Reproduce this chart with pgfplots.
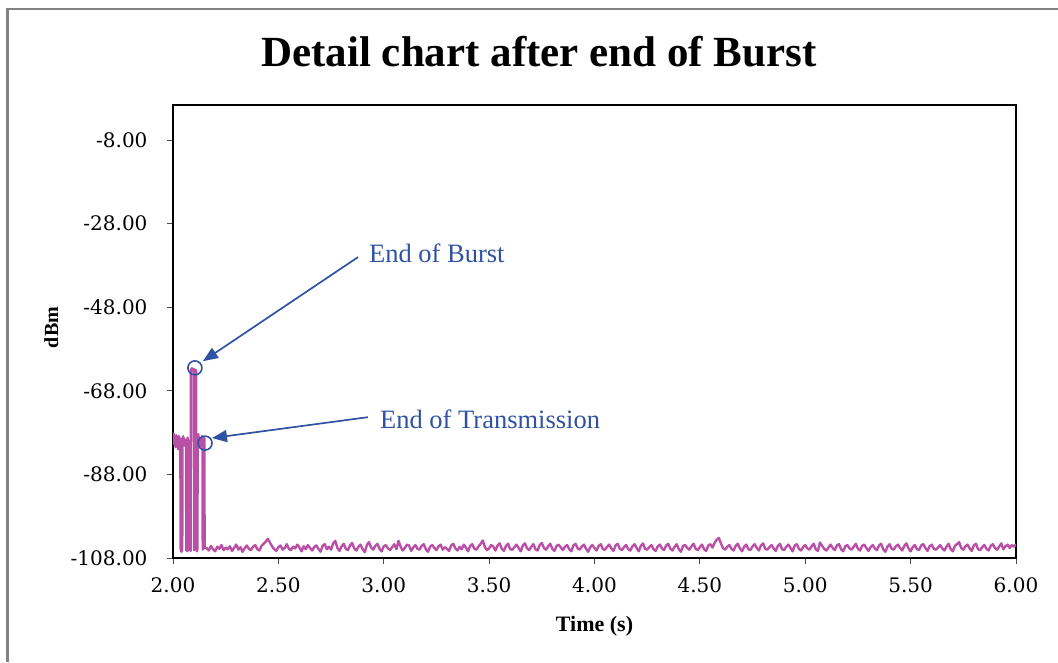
\documentclass[border=0pt]{standalone}
\usepackage{pgfplots}
\pgfplotsset{compat=1.18}
\usetikzlibrary{arrows.meta}
\usepackage{fontspec}
\setmainfont{Liberation Serif}
\newfontfamily\tickfont{DejaVu Serif}
\definecolor{sig}{RGB}{186,80,166}
\definecolor{annot}{RGB}{47,82,163}
\definecolor{frame}{RGB}{130,130,130}
\begin{document}
\begin{tikzpicture}
\path[use as bounding box] (0,0) rectangle (1058pt,662pt);
\draw[frame, line width=2.2pt] (7.5pt,0pt) -- (7.5pt,653pt) -- (1060pt,653pt);
\node[anchor=base, font=\fontsize{43}{43}\selectfont\bfseries] at (539pt,595pt) {Detail chart after end of Burst};
\node[anchor=base, font=\fontsize{22}{22}\selectfont\bfseries] at (594.5pt,31pt) {Time (s)};
\node[anchor=base, rotate=90, font=\fontsize{20}{20}\selectfont\bfseries] at (58pt,334.5pt) {dBm};
\begin{axis}[
  at={(173pt,104pt)}, anchor=south west,
  width=843pt, height=453pt, scale only axis,
  xmin=2, xmax=6, ymin=-108, ymax=0.4,
  xtick={2,2.5,3,3.5,4,4.5,5,5.5,6},
  ytick={-108,-88,-68,-48,-28,-8},
  tick align=outside, tick pos=left,
  major tick length=6pt,
  every tick/.style={black!70, line width=0.8pt},
  axis line style={line width=1.8pt, black},
  ticklabel style={font=\tickfont\fontsize{20}{20}\selectfont},
  xticklabel style={yshift=-10pt},
  yticklabel style={xshift=-16pt},
  /pgf/number format/assume math mode=true,
  /pgf/number format/.cd, fixed, fixed zerofill, precision=2,
]
\addplot[sig, line width=2.4pt, line join=round] table {
x y
2.000 -79.5
2.003 -78.2
2.006 -80.8
2.009 -79.0
2.012 -81.5
2.015 -78.6
2.018 -80.2
2.021 -79.1
2.024 -82.0
2.027 -78.8
2.030 -80.5
2.033 -79.3
2.035 -80.1
2.036 -105.8
2.040 -106.5
2.044 -105.9
2.045 -79.6
2.048 -78.9
2.051 -80.7
2.054 -79.4
2.057 -81.2
2.060 -79.8
2.062 -80.4
2.063 -106.2
2.066 -105.7
2.068 -106.4
2.069 -79.2
2.072 -80.6
2.075 -79.9
2.077 -80.3
2.078 -106.0
2.082 -105.6
2.084 -106.3
2.085 -63.0
2.090 -62.6
2.095 -63.2
2.099 -62.8
2.100 -106.1
2.103 -105.8
2.104 -62.9
2.108 -63.1
2.110 -63.4
2.111 -105.9
2.114 -106.4
2.116 -105.7
2.117 -79.0
2.120 -78.4
2.123 -80.6
2.126 -79.2
2.129 -81.3
2.132 -79.7
2.135 -80.2
2.138 -78.8
2.140 -80.9
2.141 -106.0
2.143 -105.5
2.144 -79.5
2.147 -80.8
2.149 -79.3
2.150 -105.6
2.16 -105.6
2.17 -106.2
2.18 -105.1
2.19 -105.9
2.20 -106.4
2.21 -105.3
2.22 -105.8
2.23 -104.9
2.24 -106.1
2.25 -105.5
2.26 -105.9
2.27 -105.2
2.28 -106.3
2.29 -105.6
2.30 -104.8
2.31 -106.0
2.32 -105.4
2.33 -106.5
2.34 -105.7
2.35 -105.0
2.36 -105.8
2.37 -106.1
2.38 -105.3
2.39 -104.9
2.40 -105.9
2.41 -106.2
2.42 -105.1
2.43 -104.6
2.44 -104.1
2.45 -103.4
2.46 -104.3
2.47 -105.2
2.48 -105.9
2.49 -106.3
2.50 -105.4
2.51 -105.0
2.52 -106.0
2.53 -105.6
2.54 -104.7
2.55 -105.8
2.56 -106.1
2.57 -105.3
2.58 -105.7
2.59 -104.8
2.60 -105.5
2.61 -106.4
2.62 -105.2
2.63 -105.9
2.64 -104.9
2.65 -105.6
2.66 -106.2
2.67 -105.4
2.68 -105.0
2.69 -105.8
2.70 -106.5
2.71 -105.1
2.72 -104.7
2.73 -105.9
2.74 -105.3
2.75 -106.0
2.76 -104.5
2.77 -103.9
2.78 -105.6
2.79 -106.3
2.80 -105.2
2.81 -104.6
2.82 -105.8
2.83 -106.1
2.84 -105.0
2.85 -104.4
2.86 -105.7
2.87 -106.2
2.88 -105.3
2.89 -104.8
2.90 -105.9
2.91 -106.6
2.92 -104.9
2.93 -104.2
2.94 -105.5
2.95 -106.0
2.96 -105.1
2.97 -104.6
2.98 -105.8
2.99 -106.4
3.00 -105.2
3.01 -104.9
3.02 -105.7
3.03 -106.1
3.04 -105.4
3.05 -104.7
3.06 -105.9
3.07 -103.9
3.08 -105.3
3.09 -106.2
3.10 -105.6
3.11 -104.8
3.12 -105.0
3.13 -106.3
3.14 -105.5
3.15 -104.9
3.16 -105.8
3.17 -106.0
3.18 -105.1
3.19 -104.7
3.20 -105.9
3.21 -106.5
3.22 -105.3
3.23 -104.9
3.24 -105.6
3.25 -106.1
3.26 -105.2
3.27 -104.8
3.28 -106.0
3.29 -105.4
3.30 -105.8
3.31 -106.3
3.32 -105.0
3.33 -104.6
3.34 -105.7
3.35 -106.2
3.36 -105.3
3.37 -105.9
3.38 -104.8
3.39 -105.5
3.40 -106.4
3.41 -105.1
3.42 -104.7
3.43 -105.8
3.44 -106.0
3.45 -105.2
3.46 -104.6
3.47 -103.8
3.48 -105.4
3.49 -106.1
3.50 -105.7
3.51 -104.9
3.52 -105.3
3.53 -106.2
3.54 -105.0
3.55 -104.5
3.56 -105.8
3.57 -106.3
3.58 -105.1
3.59 -104.6
3.60 -105.9
3.61 -106.0
3.62 -105.4
3.63 -104.8
3.64 -105.6
3.65 -106.4
3.66 -105.0
3.67 -104.5
3.68 -105.7
3.69 -106.1
3.70 -105.3
3.71 -104.7
3.72 -105.9
3.73 -106.2
3.74 -104.9
3.75 -104.4
3.76 -105.6
3.77 -106.0
3.78 -105.2
3.79 -104.6
3.80 -105.8
3.81 -106.3
3.82 -105.1
3.83 -104.8
3.84 -105.5
3.85 -106.1
3.86 -105.3
3.87 -104.9
3.88 -105.9
3.89 -106.4
3.90 -105.0
3.91 -104.6
3.92 -105.7
3.93 -106.0
3.94 -105.2
3.95 -104.8
3.96 -105.8
3.97 -106.5
3.98 -105.4
3.99 -104.9
4.00 -105.6
4.01 -106.2
4.02 -105.1
4.03 -104.7
4.04 -105.9
4.05 -106.0
4.06 -105.3
4.07 -104.8
4.08 -105.7
4.09 -106.3
4.10 -105.0
4.11 -104.6
4.12 -105.8
4.13 -106.1
4.14 -105.4
4.15 -104.9
4.16 -105.9
4.17 -106.2
4.18 -105.2
4.19 -104.7
4.20 -105.6
4.21 -106.4
4.22 -105.1
4.23 -104.5
4.24 -105.8
4.25 -106.0
4.26 -105.4
4.27 -104.9
4.28 -105.9
4.29 -106.3
4.30 -105.2
4.31 -104.8
4.32 -105.7
4.33 -106.1
4.34 -105.0
4.35 -104.6
4.36 -105.8
4.37 -106.2
4.38 -105.3
4.39 -104.7
4.40 -105.9
4.41 -106.5
4.42 -105.1
4.43 -104.9
4.44 -105.6
4.45 -106.0
4.46 -105.2
4.47 -104.6
4.48 -105.8
4.49 -106.1
4.50 -105.4
4.51 -104.8
4.52 -105.9
4.53 -106.3
4.54 -105.0
4.55 -104.7
4.56 -105.5
4.57 -104.4
4.58 -103.6
4.59 -103.2
4.60 -104.5
4.61 -105.7
4.62 -106.0
4.63 -105.3
4.64 -104.9
4.65 -105.8
4.66 -106.2
4.67 -105.1
4.68 -104.6
4.69 -105.7
4.70 -106.4
4.71 -105.3
4.72 -104.8
4.73 -105.9
4.74 -106.1
4.75 -105.2
4.76 -104.7
4.77 -105.6
4.78 -106.2
4.79 -105.0
4.80 -104.5
4.81 -105.8
4.82 -106.0
4.83 -105.4
4.84 -104.9
4.85 -105.7
4.86 -106.3
4.87 -105.1
4.88 -104.6
4.89 -105.9
4.90 -106.1
4.91 -105.3
4.92 -104.8
4.93 -105.6
4.94 -106.4
4.95 -105.0
4.96 -104.7
4.97 -105.8
4.98 -106.2
4.99 -105.4
5.00 -104.9
5.01 -105.7
5.02 -106.0
5.03 -105.2
5.04 -104.6
5.05 -105.9
5.06 -106.3
5.07 -104.3
5.08 -105.1
5.09 -105.8
5.10 -106.2
5.11 -105.5
5.12 -104.8
5.13 -105.6
5.14 -106.1
5.15 -105.0
5.16 -104.7
5.17 -105.9
5.18 -106.4
5.19 -105.2
5.20 -104.9
5.21 -105.7
5.22 -106.0
5.23 -105.3
5.24 -104.6
5.25 -105.8
5.26 -106.2
5.27 -105.1
5.28 -104.8
5.29 -105.6
5.30 -106.3
5.31 -105.4
5.32 -104.9
5.33 -105.7
5.34 -106.1
5.35 -105.0
5.36 -104.6
5.37 -105.9
5.38 -106.5
5.39 -105.3
5.40 -104.7
5.41 -105.8
5.42 -106.0
5.43 -105.2
5.44 -104.8
5.45 -105.6
5.46 -106.2
5.47 -105.1
5.48 -104.5
5.49 -105.7
5.50 -106.4
5.51 -105.4
5.52 -104.9
5.53 -105.9
5.54 -106.1
5.55 -105.0
5.56 -104.7
5.57 -105.6
5.58 -106.3
5.59 -105.2
5.60 -104.8
5.61 -105.8
5.62 -106.0
5.63 -105.5
5.64 -104.9
5.65 -105.7
5.66 -106.2
5.67 -105.3
5.68 -104.6
5.69 -105.9
5.70 -106.4
5.71 -105.1
5.72 -104.7
5.73 -104.2
5.74 -105.6
5.75 -106.0
5.76 -105.2
5.77 -104.8
5.78 -105.7
5.79 -106.3
5.80 -105.0
5.81 -104.6
5.82 -105.9
5.83 -106.1
5.84 -105.4
5.85 -104.9
5.86 -105.8
5.87 -106.2
5.88 -105.1
5.89 -104.7
5.90 -105.6
5.91 -106.0
5.92 -105.3
5.93 -104.5
5.94 -105.9
5.95 -105.2
5.96 -104.8
5.97 -105.6
5.98 -104.9
5.99 -105.3
6.00 -104.7
};
\draw[annot, line width=1.6pt] (axis cs:2.104,-62.5) circle (7pt);
\draw[annot, line width=1.6pt] (axis cs:2.152,-80.5) circle (7pt);
\draw[annot, line width=1.7pt, -{Triangle[length=15pt,width=12pt]}] (axis cs:2.878,-36.0) -- (axis cs:2.142,-60.9);
\draw[annot, line width=1.7pt, -{Triangle[length=15pt,width=12pt]}] (axis cs:2.925,-74.3) -- (axis cs:2.185,-79.3);
\node[annot, anchor=base west, inner sep=0pt, font=\fontsize{26.5}{26.5}\selectfont] at (axis cs:2.930,-37.2) {End of Burst};
\node[annot, anchor=base west, inner sep=0pt, font=\fontsize{26.5}{26.5}\selectfont] at (axis cs:2.982,-76.9) {End of Transmission};
\end{axis}
\end{tikzpicture}
\end{document}
